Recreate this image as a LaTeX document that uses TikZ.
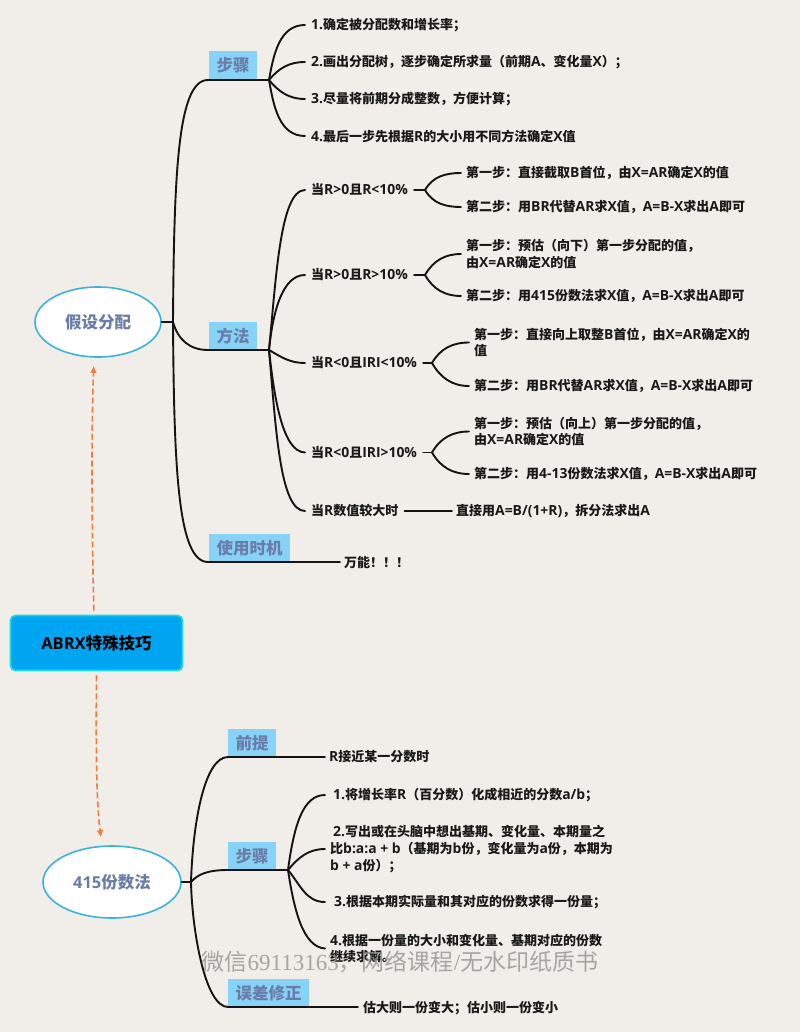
\documentclass[tikz,border=0pt]{standalone}
\usepackage{fontspec}
\setmainfont{Open Sans}
\newfontfamily\latinf[Scale=1.07]{Open Sans}
\newfontfamily\cjkf{Noto Sans CJK SC}
\newfontfamily\wmserif{Liberation Serif}
\newXeTeXintercharclass\cjkclass
\newcount\cjkcnt
\cjkcnt="4E00 \loop \XeTeXcharclass\cjkcnt=\cjkclass \ifnum\cjkcnt<"9FFF \advance\cjkcnt 1 \repeat
\cjkcnt="3000 \loop \XeTeXcharclass\cjkcnt=\cjkclass \ifnum\cjkcnt<"303F \advance\cjkcnt 1 \repeat
\cjkcnt="FF00 \loop \XeTeXcharclass\cjkcnt=\cjkclass \ifnum\cjkcnt<"FFEF \advance\cjkcnt 1 \repeat
\XeTeXinterchartokenstate=1
\XeTeXinterchartoks 0 \cjkclass = {\cjkf}
\XeTeXinterchartoks 4095 \cjkclass = {\cjkf}
\XeTeXinterchartoks \cjkclass 0 = {\latinf}
\usetikzlibrary{shapes.geometric,arrows.meta}
\definecolor{bgc}{HTML}{F1EDE8}
\definecolor{mainfill}{HTML}{00A5F2}
\definecolor{mainedge}{HTML}{1FDCDC}
\definecolor{elledge}{HTML}{3AB4D8}
\definecolor{labelfill}{HTML}{87D3F8}
\definecolor{labeltext}{HTML}{6A7DA8}
\definecolor{arrowc}{HTML}{F47B3E}
\tikzset{
  wire/.style={line width=1.9pt,black!92,line cap=round},
  txt/.style={anchor=west,inner sep=0pt,align=left,font=\latinf\bfseries\fontsize{13}{16.6}\selectfont,text=black!90},
  lab/.style={fill=labelfill,inner sep=0pt,minimum height=28pt,font=\bfseries\fontsize{16.5}{18}\selectfont,text=labeltext},
  ell/.style={ellipse,draw=elledge,line width=1.6pt,fill=white,inner sep=0pt,font=\bfseries\fontsize{16.5}{18}\selectfont,text=labeltext},
  dash arrow/.style={draw=arrowc,line width=1.6pt,dash pattern=on 6pt off 3pt,-{Latex[length=7pt,width=7pt]}},
}
\begin{document}
\begin{tikzpicture}[x=1pt,y=-1pt]
\useasboundingbox (0,0) rectangle (800,1032);
\fill[bgc] (0,0) rectangle (800,1032);

% central and main nodes
\node[rounded corners=5pt,draw=mainedge,fill=mainfill,line width=1.8pt,minimum width=172pt,minimum height=55pt,inner sep=0pt,font=\bfseries\fontsize{16.5}{18}\selectfont,text=black] (root) at (96.5,643) {ABRX特殊技巧};
\node[ell,minimum width=126pt,minimum height=70pt] (ea) at (98,322) {假设分配};
\node[ell,minimum width=138pt,minimum height=72pt] (eb) at (112,882) {415份数法};

% label boxes
\node[lab,minimum width=48pt] (l1) at (233,65.5) {步骤};
\node[lab,minimum width=48pt] (l2) at (233,336) {方法};
\node[lab,minimum width=81pt] (l3) at (249.5,548) {使用时机};
\node[lab,minimum width=48pt] (l4) at (252,743) {前提};
\node[lab,minimum width=48pt] (l5) at (252,856) {步骤};
\node[lab,minimum width=81pt] (l6) at (268.5,993) {误差修正};

% upper text
\node[txt] (a1) at (311,25) {1.确定被分配数和增长率；};
\node[txt] (a2) at (311,62) {2.画出分配树，逐步确定所求量（前期A、变化量X）；};
\node[txt] (a3) at (311,99) {3.尽量将前期分成整数，方便计算；};
\node[txt] (a4) at (311,136) {4.最后一步先根据R的大小用不同方法确定X值};
\node[txt] (m1) at (311,190) {当R>0且R<10\%};
\node[txt] (m2) at (311,275) {当R>0且R>10\%};
\node[txt] (m3) at (311,363) {当R<0且IRI<10\%};
\node[txt] (m4) at (311,452.5) {当R<0且IRI>10\%};
\node[txt] (m5) at (311,511) {当R数值较大时};
\node[txt] (m11) at (466,173) {第一步：直接截取B首位，由X=AR确定X的值};
\node[txt] (m12) at (466,207) {第二步：用BR代替AR求X值，A=B-X求出A即可};
\node[txt] (m21) at (466,254) {第一步：预估（向下）第一步分配的值，\\由X=AR确定X的值};
\node[txt] (m22) at (466,296) {第二步：用415份数法求X值，A=B-X求出A即可};
\node[txt] (m31) at (474,342.5) {第一步：直接向上取整B首位，由X=AR确定X的\\值};
\node[txt] (m32) at (474,386) {第二步：用BR代替AR求X值，A=B-X求出A即可};
\node[txt] (m41) at (474,431.5) {第一步：预估（向上）第一步分配的值，\\由X=AR确定X的值};
\node[txt] (m42) at (474,474) {第二步：用4-13份数法求X值，A=B-X求出A即可};
\node[txt] (m51) at (456,511) {直接用A=B/(1+R)，拆分法求出A};
\node[txt] (u1) at (344,563) {万能！！！};

% lower text
\node[txt] (p1) at (329,757) {R接近某一分数时};
\node[txt] (b1) at (333,795) {1.将增长率R（百分数）化成相近的分数a/b；};
\node[txt] (b2) at (330,849) {\hspace*{3pt}2.写出或在头脑中想出基期、变化量、本期量之\\比b:a:a + b（基期为b份，变化量为a份，本期为\\b + a份）；};
\node[txt] (b3) at (334,902) {3.根据本期实际量和其对应的份数求得一份量；};
\node[txt] (b4) at (330,948.5) {4.根据一份量的大小和变化量、基期对应的份数\\继续求解。};
\node[txt] (e1) at (363,1008) {估大则一份变大；估小则一份变小};

% junctions
\coordinate (ja) at (173,322);
\coordinate (jb) at (191,882);
\coordinate (jl1a) at (208,80);
\coordinate (jl1) at (269,80);
\coordinate (jl2a) at (208,350);
\coordinate (jl2) at (269,350);
\coordinate (jl3a) at (208,562);
\coordinate (jl3) at (340,562);
\coordinate (jl4a) at (228,757);
\coordinate (jl4) at (325,757);
\coordinate (jl5) at (288,870);
\coordinate (jl6a) at (228,1007);
\coordinate (jl6) at (358,1007);
\coordinate (j1) at (425,190);
\coordinate (j2) at (425,275);
\coordinate (j3) at (432,363);
\coordinate (j4) at (432,452.5);

% upper wires
\draw[wire] (ea.east) -- (ja);
\draw[wire] (ja) .. controls (174,170) and (178,80) .. (jl1a) -- (jl1);
\draw[wire] (ja) .. controls (178,340) and (190,350) .. (jl2a) -- (jl2);
\draw[wire] (ja) .. controls (174,470) and (178,562) .. (jl3a) -- (jl3);
\draw[wire] (jl1) to[out=80,in=180] ([xshift=-6pt]a1.west);
\draw[wire] (jl1) to[out=50,in=180] ([xshift=-6pt]a2.west);
\draw[wire] (jl1) to[out=-50,in=180] ([xshift=-6pt]a3.west);
\draw[wire] (jl1) to[out=-80,in=180] ([xshift=-6pt]a4.west);
\draw[wire] (jl2) .. controls (276,280) and (280,190) .. ([xshift=-6pt]m1.west);
\draw[wire] (jl2) .. controls (273,310) and (283,275) .. ([xshift=-6pt]m2.west);
\draw[wire] (jl2) to[out=-30,in=180] ([xshift=-6pt]m3.west);
\draw[wire] (jl2) .. controls (274,395) and (282,452) .. ([xshift=-6pt]m4.west);
\draw[wire] (jl2) .. controls (276,430) and (280,511) .. ([xshift=-6pt]m5.west);
% second level
\draw[wire] ([xshift=6pt]m1.east) -- (j1);
\draw[wire] (j1) to[out=60,in=180] ([xshift=-5pt]m11.west);
\draw[wire] (j1) to[out=-60,in=180] ([xshift=-5pt]m12.west);
\draw[wire] ([xshift=6pt]m2.east) -- (j2);
\draw[wire] (j2) to[out=60,in=180] ([xshift=-5pt]m21.west);
\draw[wire] (j2) to[out=-60,in=180] ([xshift=-5pt]m22.west);
\draw[wire] ([xshift=6pt]m3.east) -- (j3);
\draw[wire] (j3) to[out=60,in=180] ([xshift=-5pt]m31.west);
\draw[wire] (j3) to[out=-60,in=180] ([xshift=-5pt]m32.west);
\draw[wire] ([xshift=6pt]m4.east) -- (j4);
\draw[wire] (j4) to[out=60,in=180] ([xshift=-5pt]m41.west);
\draw[wire] (j4) to[out=-60,in=180] ([xshift=-5pt]m42.west);
\draw[wire] ([xshift=6pt]m5.east) -- ([xshift=-4pt]m51.west);

% lower wires
\draw[wire] (eb.east) -- (jb);
\draw[wire] (jb) .. controls (193,820) and (205,757) .. (jl4a) -- (jl4);
\draw[wire] (jb) .. controls (198,874) and (208,870) .. (228,870) -- (jl5);
\draw[wire] (jb) .. controls (192,930) and (205,1007) .. (jl6a) -- (jl6);
\draw[wire] (jl5) .. controls (294,825) and (303,795) .. ([xshift=-8pt]b1.west);
\draw[wire] (jl5) to[out=50,in=180] ([xshift=-5pt]b2.west);
\draw[wire] (jl5) to[out=-50,in=180] ([xshift=-9pt]b3.west);
\draw[wire] (jl5) .. controls (294,910) and (303,947) .. ([xshift=-5pt]b4.west);

% dashed connectors
\draw[dash arrow,shorten <=4pt,shorten >=8pt] ([xshift=-2.5pt]root.north) .. controls (92,540) and (91,440) .. ([xshift=-4pt]ea.south);
\draw[dash arrow,shorten <=4pt,shorten >=8pt] (root.south) .. controls (96,740) and (96,800) .. ([xshift=-10pt]eb.north);

% watermark
\XeTeXinterchartokenstate=0
\node[inner sep=0pt,text=gray!85!white,opacity=.8,font=\fontsize{23}{25}\selectfont] (wm) at (400,962) {{\cjkf 微信}{\wmserif 69113163}{\cjkf ，网络课程}{\wmserif /}{\cjkf 无水印纸质书}};
\end{tikzpicture}
\end{document}
